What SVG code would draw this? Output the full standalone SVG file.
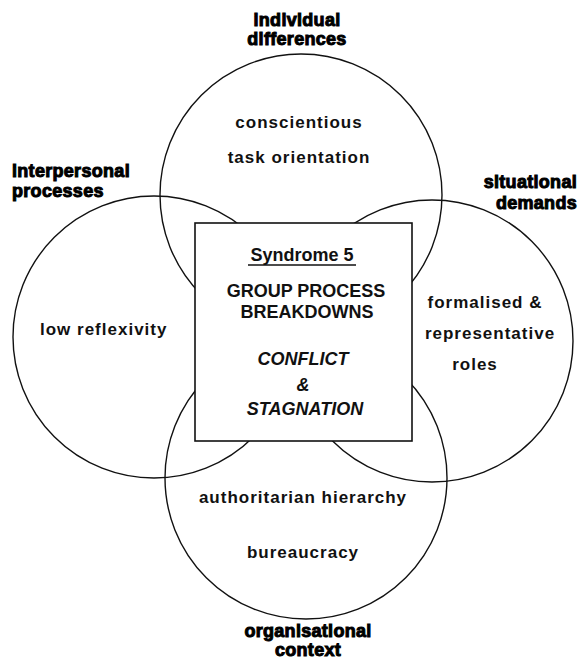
<svg xmlns="http://www.w3.org/2000/svg" width="578" height="661" viewBox="0 0 578 661">
  <style>
    .ring { fill: none; stroke: #111; stroke-width: 1.4; }
    .box { fill: #fff; stroke: #111; stroke-width: 1.6; }
    .head { font-family: "Liberation Sans", Arial, sans-serif; font-size: 18px; font-weight: bold; fill: #000; stroke: #000; stroke-width: 1; letter-spacing: 0.3px; }
    .item { font-family: "Liberation Sans", Arial, sans-serif; font-size: 17px; font-weight: bold; fill: #111; letter-spacing: 1px; }
    .core { font-family: "Liberation Sans", Arial, sans-serif; font-size: 18px; font-weight: bold; fill: #111; }
    .ital { font-style: italic; }
    .mid { text-anchor: middle; }
  </style>

  <!-- four overlapping factor circles -->
  <g id="individual-differences">
    <circle class="ring" cx="301" cy="195" r="141"/>
    <text class="head mid" x="297" y="26">individual</text>
    <text class="head mid" x="297" y="45">differences</text>
    <text class="item mid" x="299" y="128">conscientious</text>
    <text class="item mid" x="299" y="163">task orientation</text>
  </g>

  <g id="interpersonal-processes">
    <circle class="ring" cx="154" cy="337" r="141"/>
    <text class="head" x="12" y="177">interpersonal</text>
    <text class="head" x="12" y="197">processes</text>
    <text class="item" x="40" y="335">low reflexivity</text>
  </g>

  <g id="situational-demands">
    <circle class="ring" cx="432" cy="341" r="141"/>
    <text class="head" x="577" y="188" text-anchor="end">situational</text>
    <text class="head" x="577" y="209" text-anchor="end">demands</text>
    <text class="item mid" x="485" y="308">formalised &amp;</text>
    <text class="item mid" x="490" y="339">representative</text>
    <text class="item mid" x="475" y="370">roles</text>
  </g>

  <g id="organisational-context">
    <circle class="ring" cx="306" cy="478" r="141"/>
    <text class="item mid" x="303" y="503">authoritarian hierarchy</text>
    <text class="item mid" x="303" y="558">bureaucracy</text>
    <text class="head mid" x="308" y="637">organisational</text>
    <text class="head mid" x="308" y="656">context</text>
  </g>

  <!-- central syndrome box, drawn over the circles -->
  <g id="syndrome-5">
    <rect class="box" x="195" y="223" width="217" height="218"/>
    <text class="core mid" x="302" y="261">Syndrome 5</text>
    <line x1="248" y1="265" x2="356" y2="265" stroke="#111" stroke-width="1.6"/>
    <text class="core mid" x="306" y="297">GROUP PROCESS</text>
    <text class="core mid" x="307" y="318">BREAKDOWNS</text>
    <text class="core ital mid" x="303" y="365">CONFLICT</text>
    <text class="core ital mid" x="303" y="391">&amp;</text>
    <text class="core ital mid" x="305" y="415">STAGNATION</text>
  </g>
</svg>
